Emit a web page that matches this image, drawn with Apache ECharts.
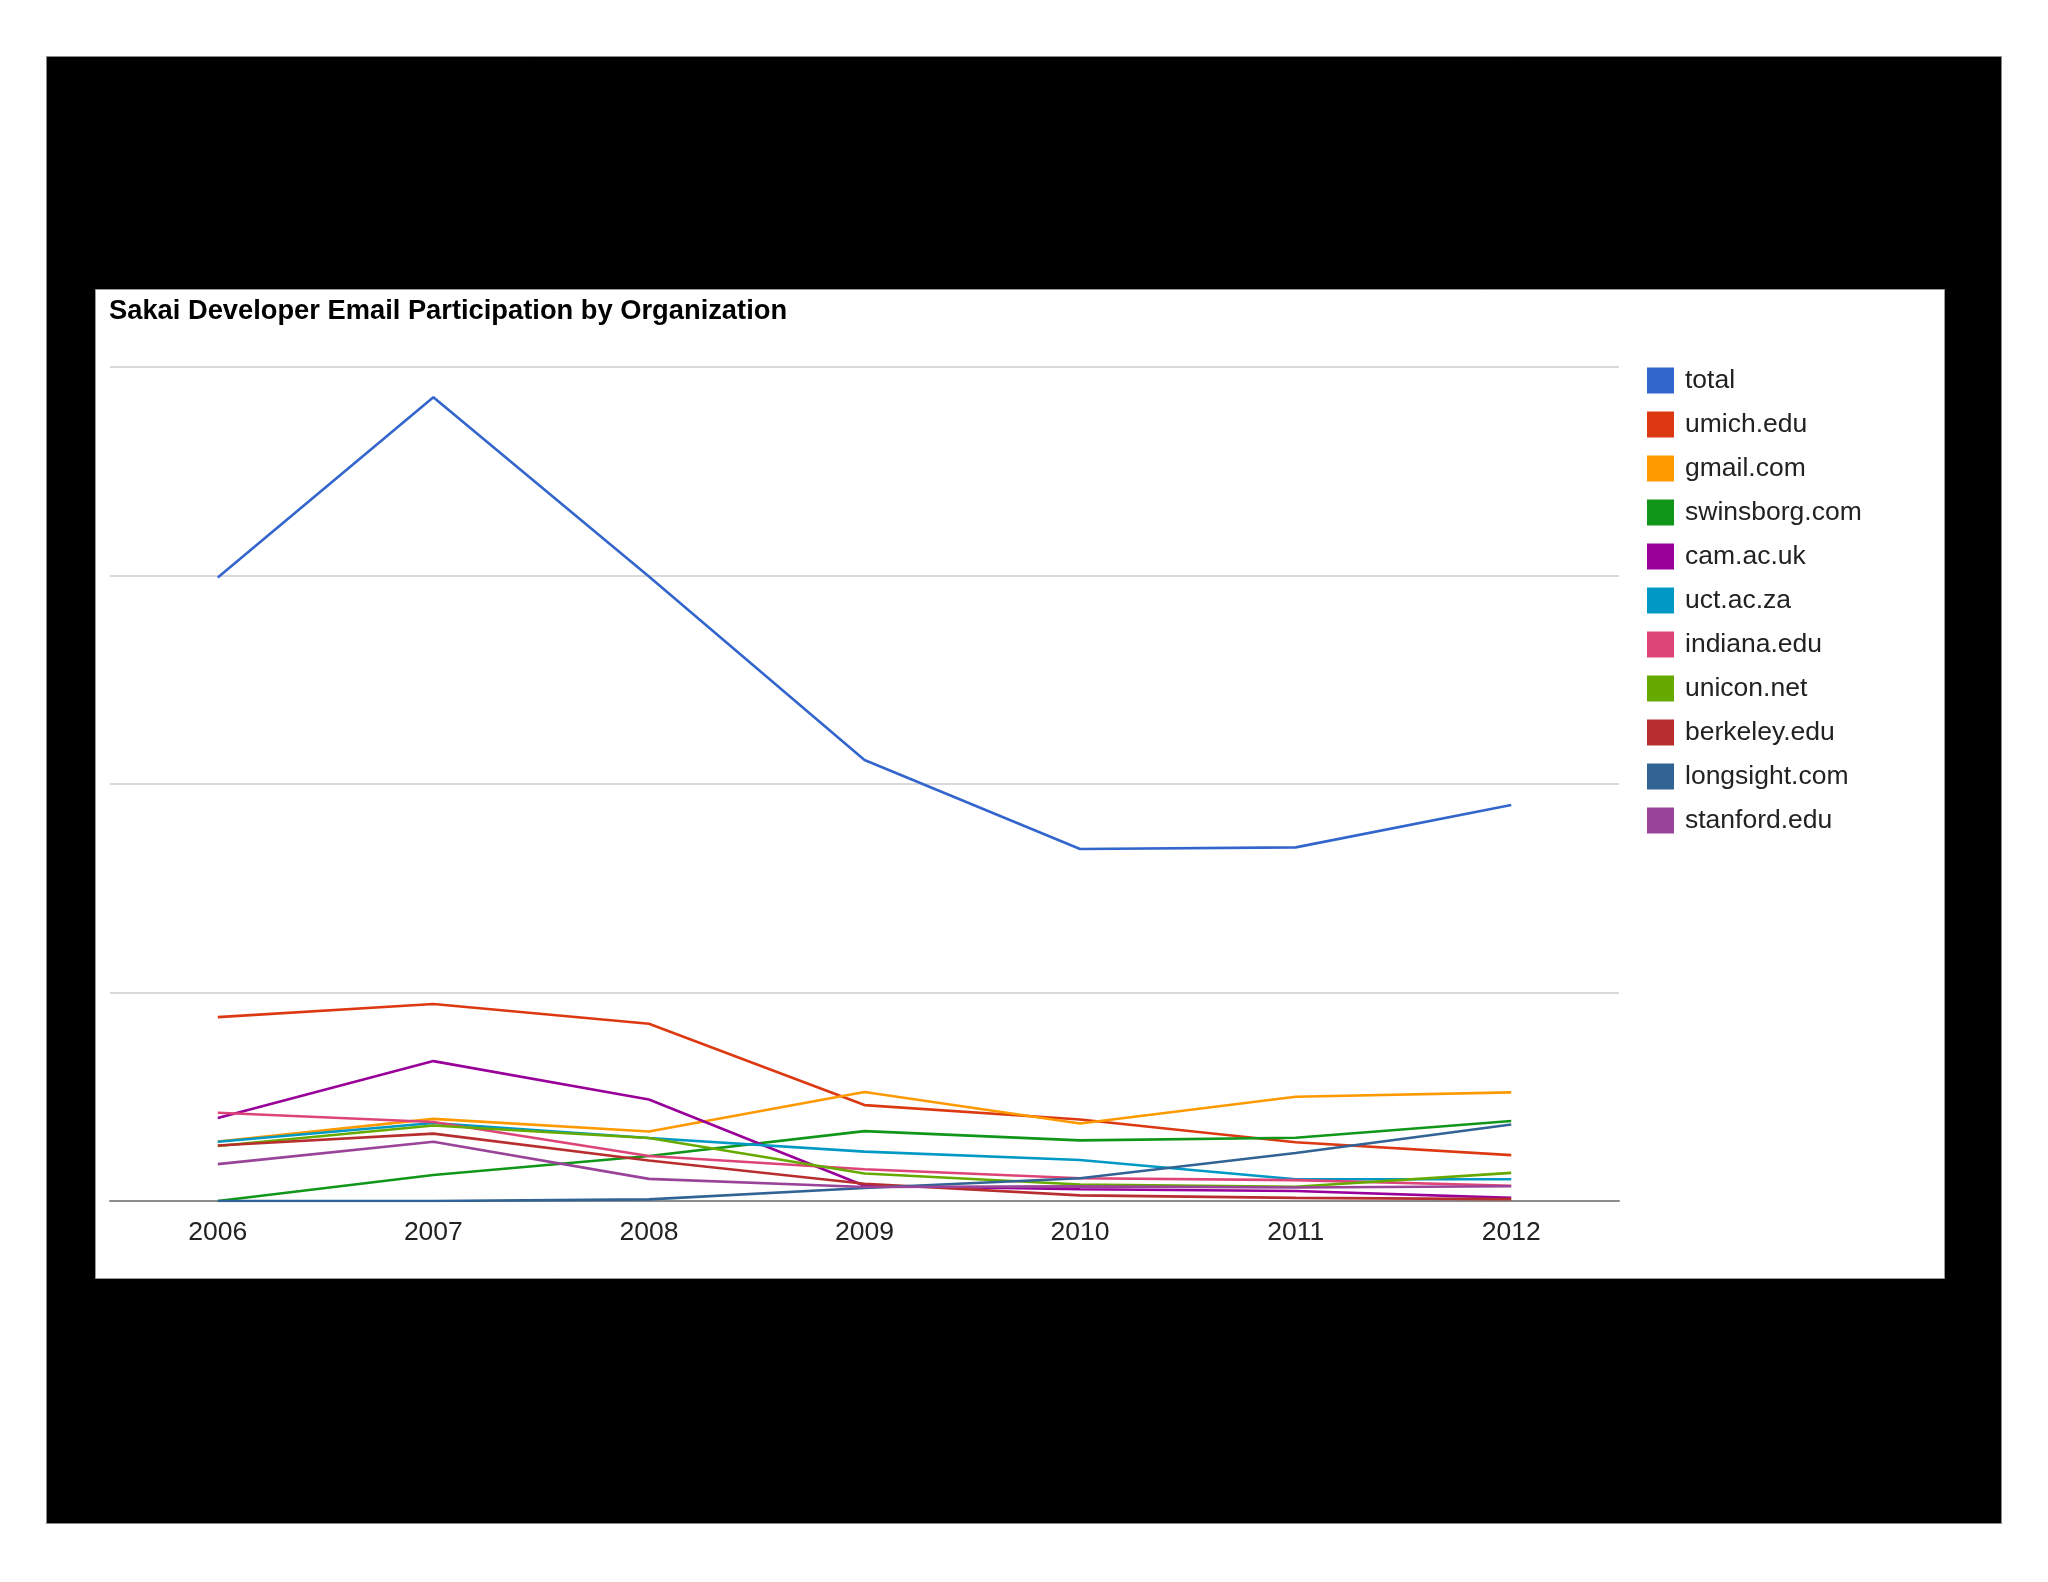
<!DOCTYPE html>
<html>
<head>
<meta charset="utf-8">
<script src="https://cdn.jsdelivr.net/npm/echarts@6/dist/echarts.min.js"></script>
<style>
html,body{margin:0;padding:0;background:#fff;}
#chart{width:2048px;height:1582px;}
</style>
</head>
<body>
<div id="chart"></div>
<script>
const years = ['2006','2007','2008','2009','2010','2011','2012'];
const seriesNames = ['total','umich.edu','gmail.com','swinsborg.com','cam.ac.uk','uct.ac.za','indiana.edu','unicon.net','berkeley.edu','longsight.com','stanford.edu'];
const total     = [2990, 3855, 2995, 2115, 1688, 1696, 1899];
const umich     = [882, 945, 850, 460, 391, 282, 220];
const gmail     = [285, 394, 333, 523, 372, 500, 521];
const swinsborg = [0, 125, 216, 335, 291, 303, 384];
const cam       = [398, 671, 487, 73, 56, 48, 15];
const uct       = [284, 374, 302, 237, 197, 104, 104];
const indiana   = [423, 379, 216, 152, 109, 100, 73];
const unicon    = [264, 362, 302, 132, 79, 68, 135];
const berkeley  = [266, 323, 194, 83, 27, 15, 9];
const longsight = [0, 0, 8, 62, 109, 230, 367];
const stanford  = [177, 284, 106, 67, 70, 65, 71];
const yTicks = [0, 1000, 2000, 3000, 4000];

const allData = [total, umich, gmail, swinsborg, cam, uct, indiana, unicon, berkeley, longsight, stanford];
const colors = ['#3366cc','#dc3912','#ff9900','#109618','#990099','#0099c6','#dd4477','#66aa00','#b82e2e','#316395','#994499'];

const chart = echarts.init(document.getElementById('chart'));
const FONT = '"Liberation Sans", Arial, Helvetica, sans-serif';
chart.setOption({
  backgroundColor: '#ffffff',
  animation: false,
  color: colors,
  textStyle: { fontFamily: FONT },
  graphic: [
    { type: 'rect', z: -10, silent: true,
      shape: { x: 46.5, y: 56.5, width: 1955, height: 1467 },
      style: { fill: '#000000', stroke: '#8a8a8a', lineWidth: 1 } },
    { type: 'rect', z: -9, silent: true,
      shape: { x: 95.5, y: 289.5, width: 1849, height: 989 },
      style: { fill: '#ffffff', stroke: '#9a9a9a', lineWidth: 1 } }
  ],
  title: {
    text: 'Sakai Developer Email Participation by Organization',
    left: 109, top: 298, padding: 0,
    textStyle: { fontFamily: FONT, fontSize: 27.3, fontWeight: 'bold', color: '#000000' }
  },
  legend: {
    orient: 'vertical',
    left: 1647, top: 367, padding: 0,
    icon: 'rect',
    itemWidth: 27, itemHeight: 26, itemGap: 17,
    data: seriesNames,
    textStyle: { fontFamily: FONT, fontSize: 26.5, color: '#222222', padding: [0,0,0,6] }
  },
  grid: { left: 110, right: 429, top: 367, bottom: 381, containLabel: false },
  xAxis: {
    type: 'category',
    data: years,
    boundaryGap: true,
    axisTick: { show: false },
    axisLine: { lineStyle: { color: '#8c8c8c', width: 2 } },
    axisLabel: { fontFamily: FONT, fontSize: 26.5, color: '#222222', margin: 18 }
  },
  yAxis: {
    type: 'value',
    min: yTicks[0], max: yTicks[yTicks.length-1], interval: 1000,
    axisLine: { show: false },
    axisTick: { show: false },
    axisLabel: { show: false },
    splitLine: { lineStyle: { color: '#cccccc', width: 1.5 } }
  },
  series: seriesNames.map((name, i) => ({
    name: name,
    type: 'line',
    data: allData[i],
    showSymbol: false,
    symbol: 'none',
    lineStyle: { width: 2.6, color: colors[i] },
    itemStyle: { color: colors[i] }
  }))
});
</script>
</body>
</html>
